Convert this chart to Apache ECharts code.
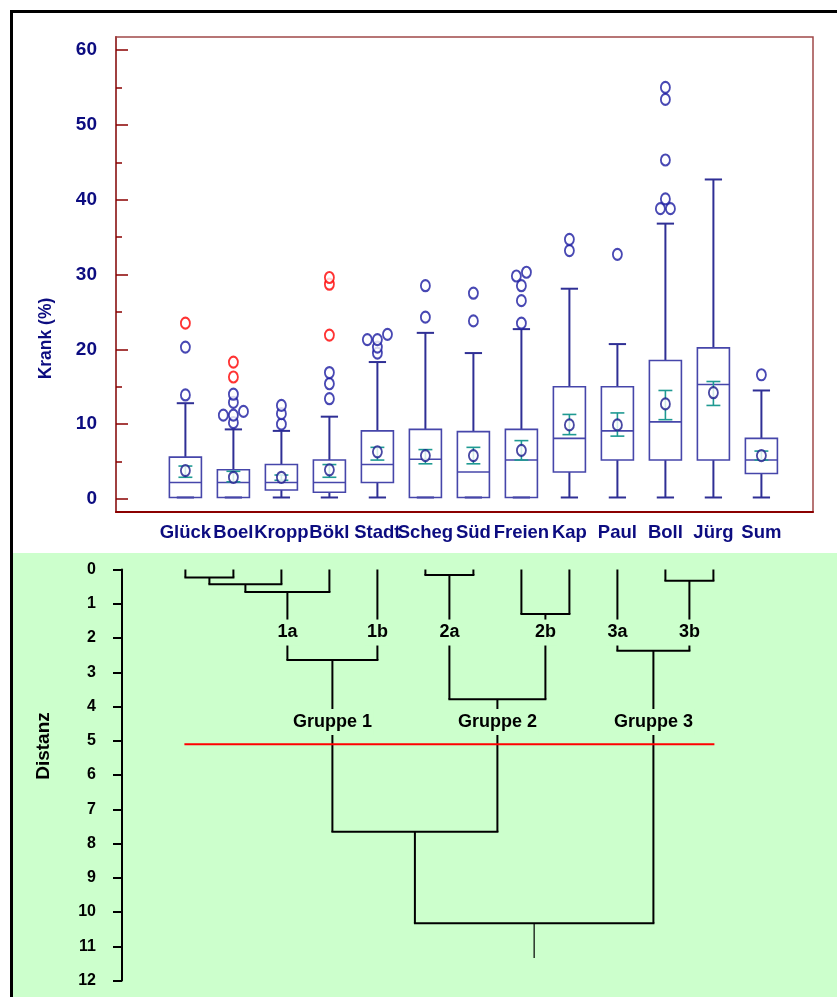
<!DOCTYPE html>
<html>
<head>
<meta charset="utf-8">
<script src="https://cdn.jsdelivr.net/npm/echarts@6/dist/echarts.min.js"></script>
<style>
  html, body { margin: 0; padding: 0; background: #fff; }
  #wrap { position: relative; width: 837px; height: 997px; overflow: hidden; }
  #frame { position: absolute; left: 10px; top: 10px; width: 900px; height: 1100px; border-left: 3px solid #000; border-top: 3px solid #000; box-sizing: border-box; }
  #green { position: absolute; left: 13px; top: 553px; width: 824px; height: 444px; background: #ccffcc; }
  #chart { position: absolute; left: 0; top: 0; width: 837px; height: 997px; }
</style>
</head>
<body>
<div id="wrap">
  <div id="frame"></div>
  <div id="green"></div>
  <div id="chart"></div>
</div>
<script>
// ---------------- data ----------------
const categories = ['Glück', 'Boel', 'Kropp', 'Bökl', 'Stadt', 'Scheg', 'Süd', 'Freien', 'Kap', 'Paul', 'Boll', 'Jürg', 'Sum'];
const whiskerLow  = [0.2, 0.2, 0.2, 0.2, 0.2, 0.2, 0.2, 0.2, 0.2, 0.2, 0.2, 0.2, 0.2];
const quartile1   = [0.2, 0.2, 1.2, 0.9, 2.2, 0.2, 0.2, 0.2, 3.6, 5.2, 5.2, 5.2, 3.4];
const medians     = [2.2, 2.2, 2.2, 2.2, 4.6, 5.3, 3.6, 5.2, 8.1, 9.1, 10.3, 15.3, 5.2];
const quartile3   = [5.6, 3.9, 4.6, 5.2, 9.1, 9.3, 9.0, 9.3, 15.0, 15.0, 18.5, 20.2, 8.1];
const whiskerHigh = [12.8, 9.3, 9.1, 11.0, 18.3, 22.2, 19.5, 22.7, 28.1, 20.7, 36.8, 42.7, 14.5];
const means       = [3.8, 2.9, 2.9, 3.9, 6.3, 5.8, 5.8, 6.5, 9.9, 9.9, 12.7, 14.2, 5.8];
const meanCiLow   = [2.9, 2.3, 2.5, 2.9, 5.2, 4.7, 4.7, 5.2, 8.6, 8.4, 10.6, 12.5, 5.2];
const meanCiHigh  = [4.4, 3.7, 3.2, 4.6, 6.9, 6.6, 6.9, 7.8, 11.3, 11.5, 14.5, 15.7, 6.4];
const outliers = [
  [13.9, 20.3],
  [10.2, 11.2, 11.2, 11.7, 12.9, 14.0],
  [10.0, 11.4, 12.5],
  [13.4, 15.4, 16.9],
  [19.5, 20.3, 21.3, 21.3, 22.0],
  [24.3, 28.5],
  [23.8, 27.5],
  [23.5, 26.5, 28.5, 29.8, 30.3],
  [33.2, 34.7],
  [32.7],
  [38.8, 38.8, 40.1, 45.3, 53.4, 55.0],
  [],
  [16.6]
];
const extremes = [
  [23.5],
  [16.3, 18.3],
  [],
  [21.9, 28.7, 29.6],
  [], [], [], [], [], [], [], [], []
];
const yTicks = [0, 10, 20, 30, 40, 50, 60];
const yMinorTicks = [5, 15, 25, 35, 45, 55];

// dendrogram (leaves = first 12 categories, merges: [nodeA, nodeB, distance])
const dendroLeafCount = 12;
const merges = [
  [0, 1, 0.23],
  [12, 2, 0.43],
  [13, 3, 0.66],
  [14, 4, 2.64],
  [5, 6, 0.16],
  [7, 8, 1.30],
  [16, 17, 3.79],
  [10, 11, 0.33],
  [9, 19, 2.37],
  [15, 18, 7.66],
  [21, 20, 10.33]
];
const rootEnd = 11.34;
const cutDistance = 5.1;
const subClusterNames = ['1a', '1b', '2a', '2b', '3a', '3b'];
const subClusterNodes = [14, 4, 16, 17, 9, 19];
const groupNames = ['Gruppe 1', 'Gruppe 2', 'Gruppe 3'];
const groupNodes = [15, 18, 20];
const distTicks = [0,1,2,3,4,5,6,7,8,9,10,11,12];

// ---------------- layout / style ----------------
const CAT0_PX = 185.4, STEP_PX = 48;
const TOP = { left: 116, top: 37, right: 813, bottom: 512 };
const BOT = { left: 122, top: 569.5, right: 813, bottom: 980.5 };
const FONT = '"Liberation Sans", Arial, sans-serif';
const NAVY = '#0c0c80';
const BOX_C = '#4646aa';
const WHISK_C = '#2f2f95';
const TEAL = '#1f9a92';
const SUB_LABEL_LEVEL = 1.84, GROUP_LABEL_LEVEL = 4.45;

function dodge(vals, ci) {
  const s = vals.slice().sort((a, b) => a - b);
  const clusters = [];
  s.forEach(v => {
    const last = clusters[clusters.length - 1];
    if (last && v - last[last.length - 1] < 0.8) last.push(v); else clusters.push([v]);
  });
  const out = [];
  clusters.forEach(c => c.forEach((v, k) => out.push([ci + (k - (c.length - 1) / 2) * 0.21, v])));
  return out;
}

const boxData = categories.map((c, i) => [i, whiskerLow[i], quartile1[i], medians[i], quartile3[i], whiskerHigh[i]]);
const ciData = categories.map((c, i) => [i, meanCiLow[i], meanCiHigh[i]]);
const meanData = categories.map((c, i) => [i, means[i]]);
const outData = [].concat(...outliers.map((o, i) => dodge(o, i)));
const extData = [].concat(...extremes.map((o, i) => dodge(o, i)));

// dendrogram geometry in data units
const nodeX = [], nodeH = [];
for (let k = 0; k < dendroLeafCount; k++) { nodeX.push(k); nodeH.push(0); }
const segs = [];
merges.forEach(([a, b, h]) => {
  segs.push([nodeX[a], nodeH[a], nodeX[a], h]);
  segs.push([nodeX[b], nodeH[b], nodeX[b], h]);
  segs.push([nodeX[a], h, nodeX[b], h]);
  nodeX.push((nodeX[a] + nodeX[b]) / 2);
  nodeH.push(h);
});
const rootId = nodeX.length - 1;
const rootSeg = [[nodeX[rootId], nodeH[rootId], nodeX[rootId], rootEnd]];
const cutSeg = [[0, cutDistance, dendroLeafCount - 1, cutDistance]];
const labelItems = [];
subClusterNames.forEach((t, k) => labelItems.push({ t, x: nodeX[subClusterNodes[k]], y: SUB_LABEL_LEVEL, fs: 18 }));
groupNames.forEach((t, k) => labelItems.push({ t, x: nodeX[groupNodes[k]], y: GROUP_LABEL_LEVEL, fs: 18 }));

function segSeries(data, color, width, z) {
  return {
    type: 'custom', xAxisIndex: 1, yAxisIndex: 2, z: z, silent: true,
    data: data,
    renderItem: function (params, api) {
      const p1 = api.coord([api.value(0), api.value(1)]);
      const p2 = api.coord([api.value(2), api.value(3)]);
      const horiz = Math.abs(p1[1] - p2[1]) < 0.5;
      const ext = horiz ? 1 : 0;
      const x1 = Math.min(p1[0], p2[0]) - ext, x2 = Math.max(p1[0], p2[0]) + ext;
      return {
        type: 'line',
        shape: horiz ? { x1: x1, y1: p1[1], x2: x2, y2: p2[1] } : { x1: p1[0], y1: p1[1], x2: p2[0], y2: p2[1] },
        style: { stroke: color, lineWidth: width }
      };
    }
  };
}

const chart = echarts.init(document.getElementById('chart'), null, { renderer: 'canvas' });
const option = {
  backgroundColor: 'transparent',
  animation: false,
  grid: [
    { left: TOP.left, top: TOP.top, width: TOP.right - TOP.left, height: TOP.bottom - TOP.top,
      show: true, borderColor: '#a04848', borderWidth: 1.5, backgroundColor: 'transparent',
      containLabel: false, outerBoundsMode: 'none' },
    { left: BOT.left, top: BOT.top, width: BOT.right - BOT.left, height: BOT.bottom - BOT.top,
      containLabel: false, outerBoundsMode: 'none' }
  ],
  xAxis: [
    { gridIndex: 0, type: 'value', position: 'bottom',
      min: (TOP.left - CAT0_PX) / STEP_PX, max: (TOP.right - CAT0_PX) / STEP_PX,
      splitLine: { show: false },
      axisLine: { show: true, onZero: false, lineStyle: { color: '#8b0000', width: 2 } },
      axisTick: { show: false },
      axisLabel: {
        customValues: categories.map((c, i) => i),
        formatter: v => categories[Math.round(v)],
        showMinLabel: true, showMaxLabel: true, hideOverlap: false,
        color: NAVY, fontWeight: 'bold', fontSize: 18.5, fontFamily: FONT, margin: 11
      }
    },
    { gridIndex: 1, type: 'value', show: false,
      min: (BOT.left - CAT0_PX) / STEP_PX, max: (BOT.right - CAT0_PX) / STEP_PX,
      splitLine: { show: false } }
  ],
  yAxis: [
    { gridIndex: 0, type: 'value', position: 'left', min: -1.74, max: 61.74,
      splitLine: { show: false },
      axisLine: { show: true, onZero: false, lineStyle: { color: '#a04040', width: 2 } },
      axisTick: { show: true, inside: true, length: 12, customValues: yTicks, lineStyle: { color: '#8b0000', width: 1.5 } },
      axisLabel: { customValues: yTicks, showMinLabel: true, showMaxLabel: true,
        color: NAVY, fontWeight: 'bold', fontSize: 19, fontFamily: FONT, margin: 19 },
      name: 'Krank (%)', nameLocation: 'middle', nameRotate: 90, nameGap: 61,
      nameTextStyle: { color: NAVY, fontWeight: 'bold', fontSize: 17.5, fontFamily: FONT, padding: [0, 128, 0, 0] }
    },
    { gridIndex: 0, type: 'value', position: 'left', offset: 0, min: -1.74, max: 61.74,
      splitLine: { show: false },
      axisLine: { show: false, onZero: false },
      axisTick: { show: true, inside: true, length: 6, customValues: yMinorTicks, lineStyle: { color: '#8b0000', width: 1.5 } },
      axisLabel: { show: false }
    },
    { gridIndex: 1, type: 'value', position: 'left', inverse: true, min: 0, max: 12, interval: 1,
      splitLine: { show: false },
      axisLine: { show: true, onZero: false, lineStyle: { color: '#000', width: 2 } },
      axisTick: { show: true, inside: false, length: 9, customValues: distTicks, lineStyle: { color: '#000', width: 2 } },
      axisLabel: { customValues: distTicks, showMinLabel: true, showMaxLabel: true,
        color: '#000', fontWeight: 'bold', fontSize: 16, fontFamily: FONT, margin: 26 },
      name: 'Distanz', nameLocation: 'middle', nameRotate: 90, nameGap: 69,
      nameTextStyle: { color: '#000', fontWeight: 'bold', fontSize: 19, fontFamily: FONT, padding: [0, 0, 0, 58] }
    }
  ],
  series: [
    { type: 'custom', xAxisIndex: 0, yAxisIndex: 0, z: 2, silent: true, data: boxData,
      renderItem: function (params, api) {
        const i = api.value(0);
        const lo = api.coord([i, api.value(1)]);
        const q1 = api.coord([i, api.value(2)]);
        const md = api.coord([i, api.value(3)]);
        const q3 = api.coord([i, api.value(4)]);
        const hi = api.coord([i, api.value(5)]);
        const step = api.size([1, 0])[0];
        const bw = step * 0.667, cw = step * 0.36;
        const x = md[0];
        const ws = { stroke: WHISK_C, lineWidth: 2 };
        return { type: 'group', children: [
          { type: 'line', shape: { x1: x, y1: lo[1], x2: x, y2: q1[1] }, style: ws },
          { type: 'line', shape: { x1: x, y1: q3[1], x2: x, y2: hi[1] }, style: ws },
          { type: 'line', shape: { x1: x - cw / 2, y1: lo[1], x2: x + cw / 2, y2: lo[1] }, style: ws },
          { type: 'line', shape: { x1: x - cw / 2, y1: hi[1], x2: x + cw / 2, y2: hi[1] }, style: ws },
          { type: 'rect', shape: { x: x - bw / 2, y: q3[1], width: bw, height: q1[1] - q3[1] },
            style: { fill: 'transparent', stroke: BOX_C, lineWidth: 1.6 } },
          { type: 'line', shape: { x1: x - bw / 2, y1: md[1], x2: x + bw / 2, y2: md[1] }, style: { stroke: BOX_C, lineWidth: 1.6 } }
        ] };
      }
    },
    { type: 'custom', xAxisIndex: 0, yAxisIndex: 0, z: 3, silent: true, data: ciData,
      renderItem: function (params, api) {
        const i = api.value(0);
        const lo = api.coord([i, api.value(1)]);
        const hi = api.coord([i, api.value(2)]);
        const cw = api.size([1, 0])[0] * 0.29;
        const x = lo[0];
        const st = { stroke: TEAL, lineWidth: 1.6 };
        return { type: 'group', children: [
          { type: 'line', shape: { x1: x, y1: lo[1], x2: x, y2: hi[1] }, style: st },
          { type: 'line', shape: { x1: x - cw / 2, y1: lo[1], x2: x + cw / 2, y2: lo[1] }, style: st },
          { type: 'line', shape: { x1: x - cw / 2, y1: hi[1], x2: x + cw / 2, y2: hi[1] }, style: st }
        ] };
      }
    },
    { type: 'scatter', xAxisIndex: 0, yAxisIndex: 0, z: 4, silent: true, data: meanData,
      symbol: 'emptyCircle', symbolSize: [9, 11],
      itemStyle: { color: '#1a1a8c', borderColor: '#1a1a8c', borderWidth: 1.4 } },
    { type: 'scatter', xAxisIndex: 0, yAxisIndex: 0, z: 4, silent: true, data: outData,
      symbol: 'emptyCircle', symbolSize: [9, 11],
      itemStyle: { color: '#1a1aa0', borderColor: '#1a1aa0', borderWidth: 1.3 } },
    { type: 'scatter', xAxisIndex: 0, yAxisIndex: 0, z: 4, silent: true, data: extData,
      symbol: 'emptyCircle', symbolSize: [9, 11],
      itemStyle: { color: '#ff0000', borderColor: '#ff0000', borderWidth: 1.2 } },
    segSeries(segs, '#000', 2, 2),
    segSeries(rootSeg, '#000', 1.2, 2),
    segSeries(cutSeg, '#ff0000', 2, 2),
    { type: 'custom', xAxisIndex: 1, yAxisIndex: 2, z: 5, silent: true,
      data: labelItems.map(d => [d.x, d.y]),
      renderItem: function (params, api) {
        const d = labelItems[params.dataIndex];
        const p = api.coord([api.value(0), api.value(1)]);
        return { type: 'text', x: p[0], y: p[1],
          style: { text: d.t, fill: '#000', fontSize: d.fs, fontWeight: 'bold', fontFamily: FONT,
            align: 'center', verticalAlign: 'middle', backgroundColor: '#ccffcc', padding: [4, 2] } };
      }
    }
  ]
};
chart.setOption(option);
</script>
</body>
</html>
